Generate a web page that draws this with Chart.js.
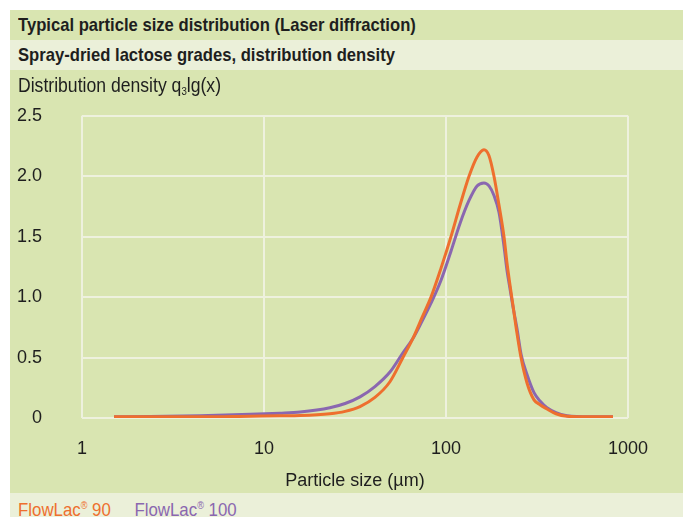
<!DOCTYPE html>
<html>
<head>
<meta charset="utf-8">
<script src="https://cdn.jsdelivr.net/npm/chart.js@4/dist/chart.umd.min.js"></script>
<style>
  html, body { margin:0; padding:0; background:#ffffff; }
  body { width:683px; height:517px; position:relative; overflow:hidden;
         font-family:'Liberation Sans',Arial,sans-serif; color:#1e1e1e; }
  .band { position:absolute; left:10px; width:673px; }
  #b1 { top:10px; height:30px; background:#d9e5b1; }
  #b2 { top:40px; height:30px; background:#ebf0d9; }
  #b3 { top:70px; height:423px; background:#d9e5b1; }
  #b4 { top:493px; height:24px; background:#ebf0d9; z-index:2; }
  .t { position:absolute; left:8px; white-space:nowrap; transform-origin:0 50%; }
  .bold { font-weight:bold; font-size:19px; line-height:30px; transform:scaleX(0.875); }
  #ytitle { font-size:20px; top:2px; line-height:26px; transform:scaleX(0.88); z-index:3; }
  #ytitle sub { font-size:11px; vertical-align:-3px; }
  #legend { font-size:18.5px; line-height:24px; top:1px; transform:scaleX(0.91); }
  #legend sup { font-size:10px; vertical-align:7px; }
  #wrap { position:absolute; left:0; top:-5px; width:673px; height:430px; z-index:1; }
</style>
</head>
<body>
<div class="band" id="b1"><div class="t bold">Typical particle size distribution (Laser diffraction)</div></div>
<div class="band" id="b2"><div class="t bold">Spray-dried lactose grades, distribution density</div></div>
<div class="band" id="b3">
  <div id="wrap"><canvas id="c"></canvas></div>
  <div class="t" id="ytitle">Distribution density q<sub>3</sub>lg(x)</div>
</div>
<div class="band" id="b4"><div class="t" id="legend"><span style="color:#ee6f2e">FlowLac<sup>®</sup> 90</span><span style="display:inline-block;width:26px"></span><span style="color:#8a67b0">FlowLac<sup>®</sup> 100</span></div></div>
<script>
// Particle size (µm)
const sizes = [1.5, 2.36, 4.45, 8.4, 12.2, 15.8, 23, 27.9, 33.7, 40.7, 49.2, 58, 65.9, 73.8, 82.7, 93.9, 106.5, 119.4, 133.8, 148.1, 161.7, 172.3, 183.5, 195.6, 208.3, 216.4, 224.7, 233.4, 245.5, 258.3, 278.7, 304.5, 328.5, 358.8, 402.2, 462.2, 618.4, 827];
// FlowLac 90 distribution density q3lg(x)
const flowlac90 = [0.01, 0.01, 0.01, 0.015, 0.018, 0.02, 0.035, 0.055, 0.095, 0.17, 0.3, 0.5, 0.66, 0.83, 1.0, 1.24, 1.5, 1.76, 2.0, 2.16, 2.22, 2.17, 2.0, 1.76, 1.5, 1.28, 1.1, 0.93, 0.7, 0.5, 0.29, 0.15, 0.11, 0.075, 0.035, 0.015, 0.01, 0.01];
// FlowLac 100 distribution density q3lg(x)
const flowlac100 = [0.01, 0.012, 0.018, 0.03, 0.04, 0.05, 0.085, 0.12, 0.175, 0.26, 0.38, 0.54, 0.66, 0.80, 0.95, 1.14, 1.38, 1.61, 1.80, 1.92, 1.945, 1.92, 1.84, 1.70, 1.42, 1.22, 1.07, 0.92, 0.74, 0.53, 0.36, 0.21, 0.14, 0.085, 0.045, 0.018, 0.01, 0.01];
const xTicks = [1, 10, 100, 1000];
const yTicks = [0, 0.5, 1.0, 1.5, 2.0, 2.5];
const seriesNames = ['FlowLac® 90', 'FlowLac® 100'];

const FONT = "'Liberation Sans',Arial,sans-serif";
const gridCol = '#eef1de';

new Chart(document.getElementById('c'), {
  type: 'line',
  data: {
    datasets: [
      { label: seriesNames[0], data: sizes.map((x,i)=>({x, y: flowlac90[i]})), borderColor:'#ee6f2e', borderWidth:3, pointRadius:0, cubicInterpolationMode:'monotone', fill:false },
      { label: seriesNames[1], data: sizes.map((x,i)=>({x, y: flowlac100[i]})), borderColor:'#8a67b0', borderWidth:3, pointRadius:0, cubicInterpolationMode:'monotone', fill:false }
    ]
  },
  options: {
    responsive: true, maintainAspectRatio: false, animation: false,
    layout: { padding: { left:0, top:33, right:55, bottom:0 } },
    plugins: { legend: { display:false }, tooltip: { enabled:false } },
    scales: {
      x: {
        type: 'logarithmic', min: 1, max: 1000,
        afterBuildTicks: s => { s.ticks = xTicks.map(v => ({value:v})); },
        afterFit: s => { s.height = 77; },
        border: { display:false },
        grid: { color: gridCol, lineWidth: 2, drawTicks:false },
        ticks: { color:'#1e1e1e', font:{ family:FONT, size:18 }, padding: 20, maxRotation:0, autoSkip:false, callback: v => String(v) },
        title: { display:true, text:'Particle size (µm)', color:'#1e1e1e', font:{ family:FONT, size:18 }, padding:{ top:0, bottom:3 } }
      },
      y: {
        type: 'linear', min: 0, max: 2.5,
        afterBuildTicks: s => { s.ticks = yTicks.map(v => ({value:v})); },
        afterFit: s => { s.width = 72; },
        border: { display:false },
        grid: { color: gridCol, lineWidth: 2, drawTicks:false },
        ticks: { color:'#1e1e1e', font:{ family:FONT, size:18 }, padding: 40, callback: v => v === 0 ? '0' : Number(v).toFixed(1) }
      }
    }
  }
});
</script>
</body>
</html>
